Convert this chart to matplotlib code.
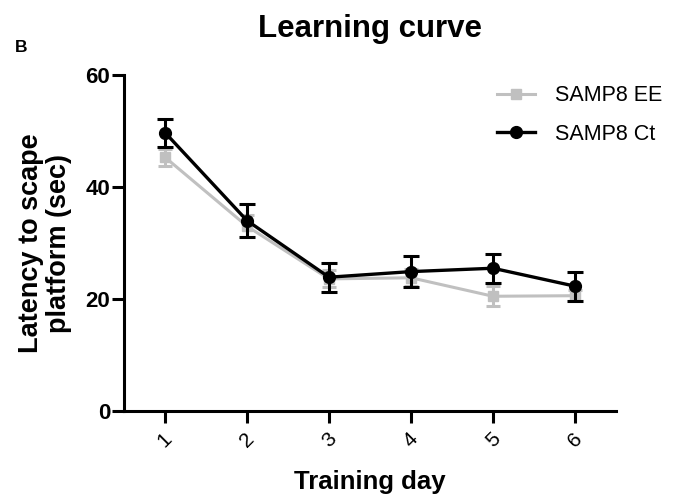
import numpy as np
import matplotlib.pyplot as plt
from matplotlib.lines import Line2D

plt.rcParams['font.family'] = ['Liberation Sans', 'DejaVu Sans']

days = [1, 2, 3, 4, 5, 6]
ee_mean = [45.3, 33.0, 23.6, 23.8, 20.5, 20.6]
ee_sem = [1.5, 2.0, 1.5, 1.5, 1.8, 1.0]
ct_mean = [49.7, 34.0, 23.9, 24.9, 25.5, 22.3]
ct_sem = [2.5, 3.0, 2.6, 2.8, 2.6, 2.6]

grey = '#c0c0c0'

fig = plt.figure(figsize=(6.89, 4.99), dpi=100)
ax = fig.add_axes([0.180, 0.176, 0.714, 0.674])

ax.errorbar(days, ee_mean, yerr=ee_sem, color=grey, marker='s', markersize=7,
            linewidth=2.2, elinewidth=2.2, capsize=5, capthick=2.2, zorder=2)
ax.errorbar(days, ct_mean, yerr=ct_sem, color='black', marker='o', markersize=8.5,
            linewidth=2.4, elinewidth=2.2, capsize=5.5, capthick=2.2, zorder=3)

ax.set_xlim(0.5, 6.5)
ax.set_ylim(0, 60)
ax.set_yticks([0, 20, 40, 60])
ax.set_xticks(days)
ax.set_xticklabels([str(d) for d in days], rotation=45, fontsize=15)
for lab in ax.get_yticklabels():
    lab.set_fontweight('bold')
    lab.set_fontsize(16)

for side in ['top', 'right']:
    ax.spines[side].set_visible(False)
for side in ['left', 'bottom']:
    ax.spines[side].set_linewidth(2.2)
ax.tick_params(width=2.2, length=8.5)
ax.tick_params(axis='x', pad=4.5)
ax.tick_params(axis='y', pad=1.5)

ax.set_xlabel('Training day', fontsize=18.5, fontweight='bold', labelpad=14)
ax.set_ylabel('Latency to scape\nplatform (sec)', fontsize=19.5, fontweight='bold',
              linespacing=1.07)
ax.yaxis.set_label_coords(-0.106, 0.5)
ax.set_title('Learning curve', fontsize=22.5, fontweight='bold', pad=27)
fig.text(0.022, 0.896, 'B', fontsize=12.5, fontweight='bold')

handles = [
    Line2D([], [], color=grey, marker='s', markersize=7, linewidth=2.2),
    Line2D([], [], color='black', marker='o', markersize=8.5, linewidth=2.4),
]
ax.legend(handles, ['SAMP8 EE', 'SAMP8 Ct'], loc='upper right', bbox_to_anchor=(1.133, 1.026),
          frameon=False, fontsize=15.5, handlelength=1.8, labelspacing=0.8, handletextpad=0.9)

fig.savefig('out.png', dpi=100)
